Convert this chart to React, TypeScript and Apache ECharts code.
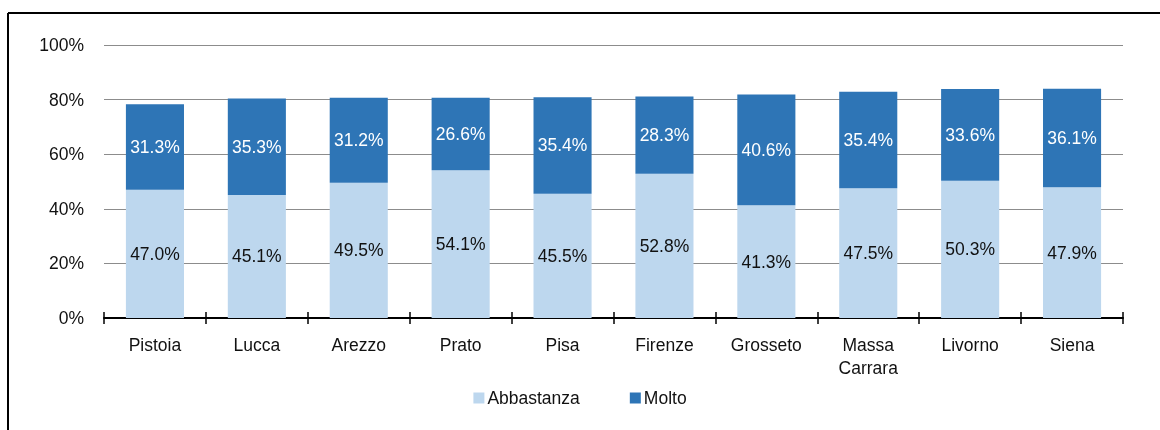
import React, { useEffect, useRef } from "react";
import * as echarts from "echarts";

const categories = ["Pistoia", "Lucca", "Arezzo", "Prato", "Pisa", "Firenze", "Grosseto", "Massa\nCarrara", "Livorno", "Siena"];
const abbastanza = [47.0, 45.1, 49.5, 54.1, 45.5, 52.8, 41.3, 47.5, 50.3, 47.9];
const molto = [31.3, 35.3, 31.2, 26.6, 35.4, 28.3, 40.6, 35.4, 33.6, 36.1];
const seriesNames = ["Abbastanza", "Molto"];
const yTicks = [0, 20, 40, 60, 80, 100];

const FONT = "'Liberation Sans', Arial, sans-serif";

export default function App() {
  const ref = useRef<HTMLDivElement>(null);
  useEffect(() => {
    if (!ref.current) return;
    const chart = echarts.init(ref.current, undefined, { renderer: "svg" });
    const label = (color: string) => ({
      show: true,
      position: "inside",
      color,
      fontSize: 17.5,
      fontFamily: FONT,
      formatter: (p: any) => p.value.toFixed(1) + "%",
    });
    chart.setOption({
      animation: false,
      textStyle: { fontFamily: FONT },
      grid: { left: 104, right: 37, top: 45, bottom: 112 },
      graphic: [
        { type: "line", shape: { x1: 8, y1: 13, x2: 1160, y2: 13 }, style: { stroke: "#000", lineWidth: 2 } },
        { type: "line", shape: { x1: 8, y1: 13, x2: 8, y2: 430 }, style: { stroke: "#000", lineWidth: 2 } },
      ],
      legend: {
        bottom: 18,
        left: "center",
        itemWidth: 11,
        itemHeight: 11,
        itemGap: 50,
        icon: "rect",
        itemStyle: { borderWidth: 0 },
        textStyle: { fontSize: 17.5, fontFamily: FONT, color: "#111", padding: [0, 0, 0, -2] },
        data: seriesNames,
      },
      xAxis: [
        {
          type: "category",
          data: categories,
          axisLine: { lineStyle: { color: "#000", width: 2 } },
          axisTick: { show: true, length: 6, lineStyle: { color: "#000", width: 1.5 } },
          axisLabel: { color: "#111", fontSize: 17.5, fontFamily: FONT, margin: 15, lineHeight: 23 },
        },
        {
          type: "category",
          data: categories,
          position: "bottom",
          axisLine: { show: false },
          axisTick: { show: true, inside: true, length: 6, lineStyle: { color: "#000", width: 1.5 } },
          axisLabel: { show: false },
        },
      ],
      yAxis: {
        type: "value",
        min: yTicks[0],
        max: yTicks[yTicks.length - 1],
        interval: 20,
        axisLine: { show: false },
        axisTick: { show: false },
        splitLine: { lineStyle: { color: "#8c8c8c", width: 1 } },
        axisLabel: { formatter: "{value}%", color: "#111", fontSize: 17.5, fontFamily: FONT, margin: 20 },
      },
      series: [
        {
          name: seriesNames[0],
          type: "bar",
          stack: "total",
          data: abbastanza,
          barWidth: "57%",
          itemStyle: { color: "#BDD7EE" },
          label: label("#111"),
        },
        {
          name: seriesNames[1],
          type: "bar",
          stack: "total",
          data: molto,
          barWidth: "57%",
          itemStyle: { color: "#2E75B6" },
          label: label("#fff"),
        },
      ],
    });
    return () => chart.dispose();
  }, []);
  return <div ref={ref} style={{ position: "fixed", left: 0, top: 0, width: 1160, height: 430 }} />;
}
